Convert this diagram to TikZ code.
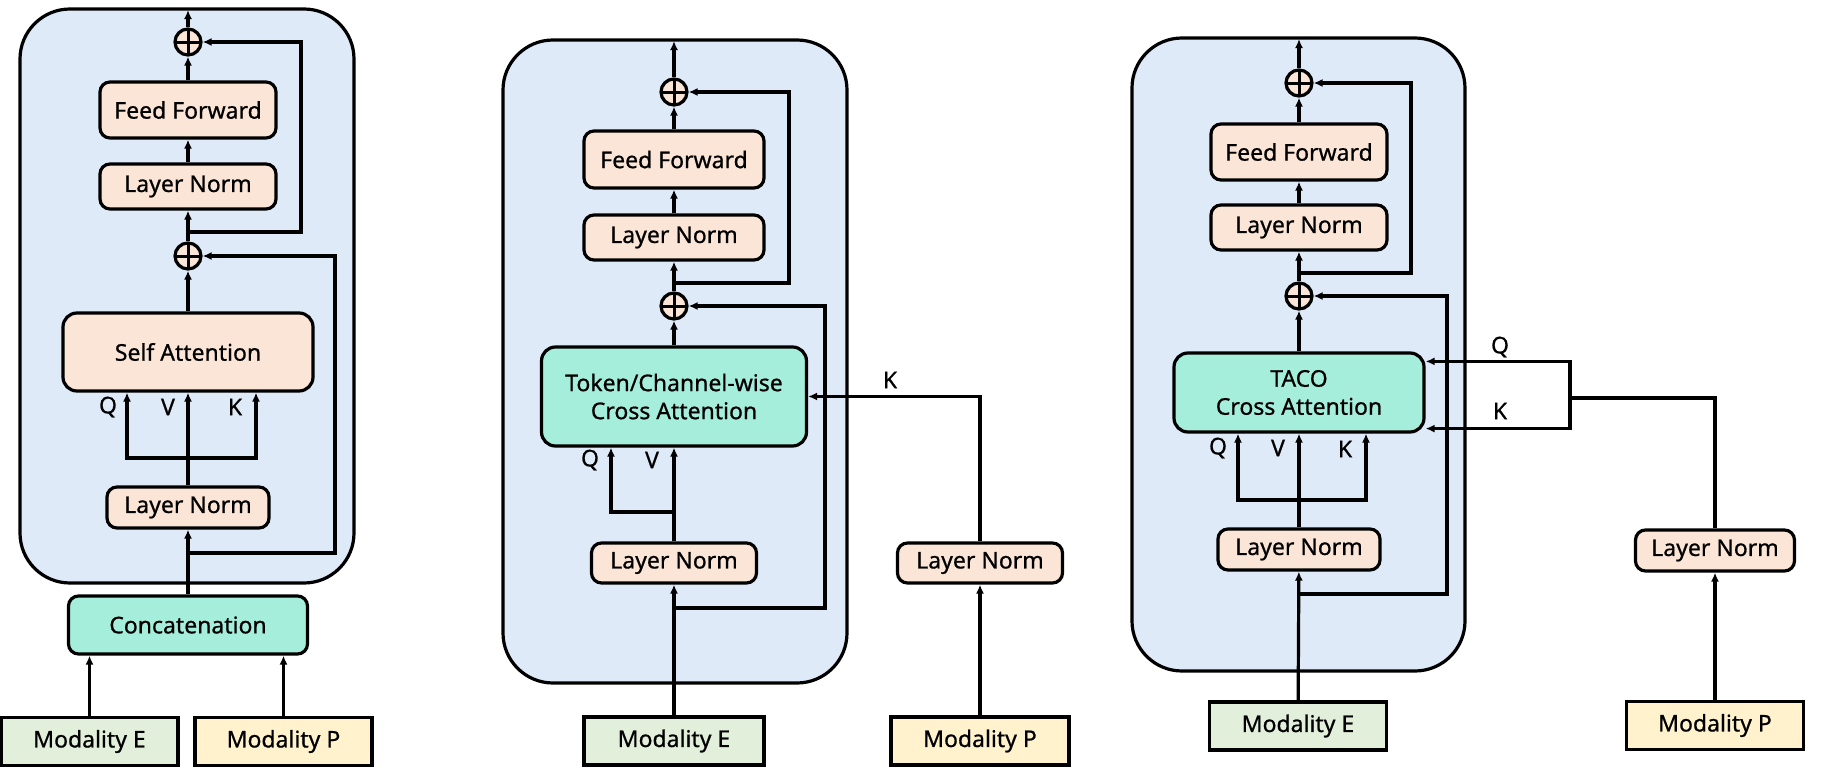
\documentclass[tikz,border=0pt]{standalone}
\usepackage{fontspec}
\setmainfont{Noto Sans}[FakeBold=0.7]
\usetikzlibrary{arrows.meta}
\definecolor{panelblue}{RGB}{222,234,247}
\definecolor{peach}{RGB}{251,229,214}
\definecolor{aqua}{RGB}{165,238,220}
\definecolor{modgreen}{RGB}{226,239,218}
\definecolor{modyellow}{RGB}{255,242,204}
\tikzset{
  every node/.style={font=\fontsize{11.5}{14}\selectfont, inner sep=0pt},
  panel/.style={draw, line width=1.6pt, fill=panelblue, rounded corners=25pt},
  block/.style={draw, line width=1.6pt, rounded corners=5pt, fill=peach, align=center},
  ffbox/.style={block, minimum width=88pt, minimum height=28pt},
  normbox/.style={block, minimum width=88pt, minimum height=22.5pt},
  normsmall/.style={block, minimum width=81pt, minimum height=20.5pt},
  attbox/.style={block, rounded corners=7pt},
  modbox/.style={draw, line width=1.6pt, minimum width=88.5pt, minimum height=24pt},
  addnode/.style={circle, draw, line width=1.6pt, fill=peach, minimum size=13pt,
    path picture={\draw[line width=1.5pt] (path picture bounding box.north) -- (path picture bounding box.south)
      (path picture bounding box.west) -- (path picture bounding box.east);}},
  arr/.style={line width=1.6pt, -{Latex[length=4.5pt,width=4pt]}},
  link/.style={line width=1.6pt}
}
\begin{document}
\begin{tikzpicture}[x=0.5pt,y=-0.5pt]
   \useasboundingbox (0,0) rectangle (1828,771);
   % concatenation + self attention
   \begin{scope}
    \draw[panel] (20,9) rectangle (354,583);
    \node[addnode] (addA1) at (188,42) {};
    \node[ffbox] (ffA) at (188,110) {Feed Forward};
    \node[normbox] (lnA2) at (188,186.5) {Layer Norm};
    \node[addnode] (addA2) at (188,256) {};
    \node[attbox, minimum width=125pt, minimum height=39pt] (attnA) at (188,352) {Self Attention};
    \node[normsmall] (lnA1) at (188,507.5) {Layer Norm};
    \node[block, fill=aqua, minimum width=119.5pt, minimum height=29pt] (catA) at (188,625) {Concatenation};
    \node[modbox, fill=modgreen] (modEA) at (89.5,741.5) {Modality E};
    \node[modbox, fill=modyellow] (modPA) at (283.5,741.5) {Modality P};
    \node (labQA) at (108,407) {Q};
    \node (labVA) at (168,407) {V};
    \node (labKA) at (235,407) {K};
    \coordinate (outA) at (188,10);
    \coordinate (tapA1) at (188,553);
    \coordinate (tapA2) at (188,232);
    \coordinate (barA) at (188,458);
    \draw[arr] (modEA.north) -- (modEA.north |- catA.south);
    \draw[arr] (modPA.north) -- (modPA.north |- catA.south);
    \draw[arr] (catA) -- (lnA1);
    \draw[arr] (lnA1) -- (attnA);
    \draw[arr] (barA) -| ([xshift=-30.5pt]attnA.south);
    \draw[arr] (barA) -| ([xshift=34pt]attnA.south);
    \draw[arr] (attnA) -- (addA2);
    \draw[arr] (addA2) -- (lnA2);
    \draw[arr] (lnA2) -- (ffA);
    \draw[arr] (ffA) -- (addA1);
    \draw[arr] (addA1) -- (outA);
    \draw[arr] (tapA1) -- ++(147,0) |- (addA2.east);
    \draw[arr] (tapA2) -- ++(113,0) |- (addA1.east);
   \end{scope}
   % token/channel-wise cross attention
   \begin{scope}
    \draw[panel] (503,40) rectangle (847,683);
    \node[addnode] (addB1) at (674,92) {};
    \node[ffbox, minimum width=90pt, minimum height=28.5pt] (ffB) at (674,159.5) {Feed Forward};
    \node[normbox, minimum width=90pt] (lnB2) at (674,237.5) {Layer Norm};
    \node[addnode] (addB2) at (674,306) {};
    \node[attbox, fill=aqua, minimum width=132.5pt, minimum height=49.5pt] (attnB) at (674,396.5) {Token/Channel-wise\\Cross Attention};
    \node[normsmall, minimum width=82.5pt, minimum height=20pt] (lnB1) at (674,563) {Layer Norm};
    \node[normsmall, minimum width=82.5pt, minimum height=20pt] (lnPB) at (980,563) {Layer Norm};
    \node[modbox, fill=modgreen, minimum width=90pt] (modEB) at (674,741) {Modality E};
    \node[modbox, fill=modyellow, minimum width=89pt] (modPB) at (980,741) {Modality P};
    \node (labQB) at (590,460) {Q};
    \node (labVB) at (652,460) {V};
    \node (labKB) at (890,380) {K};
    \coordinate (outB) at (674,41);
    \coordinate (tapB1) at (674,608);
    \coordinate (tapB2) at (674,283);
    \coordinate (barB) at (674,512);
    \draw[arr] (modEB) -- (lnB1);
    \draw[arr] (lnB1) -- (attnB);
    \draw[arr] (barB) -| ([xshift=-31.5pt]attnB.south);
    \draw[arr] (attnB) -- (addB2);
    \draw[arr] (addB2) -- (lnB2);
    \draw[arr] (lnB2) -- (ffB);
    \draw[arr] (ffB) -- (addB1);
    \draw[arr] (addB1) -- (outB);
    \draw[arr] (tapB1) -- ++(151,0) |- (addB2.east);
    \draw[arr] (tapB2) -- ++(115,0) |- (addB1.east);
    \draw[arr] (modPB) -- (lnPB);
    \draw[arr] (lnPB.north) |- (attnB.east);
   \end{scope}
   % TACO cross attention
   \begin{scope}
    \draw[panel] (1132,38) rectangle (1465,671);
    \node[addnode] (addC1) at (1299,83) {};
    \node[ffbox] (ffC) at (1299,152) {Feed Forward};
    \node[normbox] (lnC2) at (1299,227.5) {Layer Norm};
    \node[addnode] (addC2) at (1299,296) {};
    \node[attbox, fill=aqua, minimum width=125pt, minimum height=39.5pt] (attnC) at (1299,392.5) {TACO\\Cross Attention};
    \node[normsmall] (lnC1) at (1299,549.5) {Layer Norm};
    \node[normsmall, minimum width=79.5pt] (lnPC) at (1715,550.5) {Layer Norm};
    \node[modbox, fill=modgreen] (modEC) at (1298,726) {Modality E};
    \node[modbox, fill=modyellow] (modPC) at (1715,725.5) {Modality P};
    \node (labQC) at (1218,448) {Q};
    \node (labVC) at (1278,448) {V};
    \node (labKC) at (1345,449) {K};
    \node (labQC2) at (1500,347) {Q};
    \node (labKC2) at (1500,411) {K};
    \coordinate (outC) at (1299,39);
    \coordinate (tapC1) at (1299,594);
    \coordinate (tapC2) at (1299,273);
    \coordinate (barC) at (1299,500);
    \coordinate (forkC) at (1570,398);
    \draw[arr] (modEC) -- (lnC1);
    \draw[arr] (lnC1) -- (attnC);
    \draw[arr] (barC) -| ([xshift=-30.5pt]attnC.south);
    \draw[arr] (barC) -| ([xshift=33.5pt]attnC.south);
    \draw[arr] (attnC) -- (addC2);
    \draw[arr] (addC2) -- (lnC2);
    \draw[arr] (lnC2) -- (ffC);
    \draw[arr] (ffC) -- (addC1);
    \draw[arr] (addC1) -- (outC);
    \draw[arr] (tapC1) -- ++(148,0) |- (addC2.east);
    \draw[arr] (tapC2) -- ++(112,0) |- (addC1.east);
    \draw[arr] (modPC) -- (lnPC);
    \draw[link] (lnPC.north) |- (forkC);
    \draw[arr] (forkC) |- ([yshift=-5pt]attnC.north east);
    \draw[arr] (forkC) |- ([yshift=2.5pt]attnC.south east);
   \end{scope}
  \end{tikzpicture}
\end{document}
